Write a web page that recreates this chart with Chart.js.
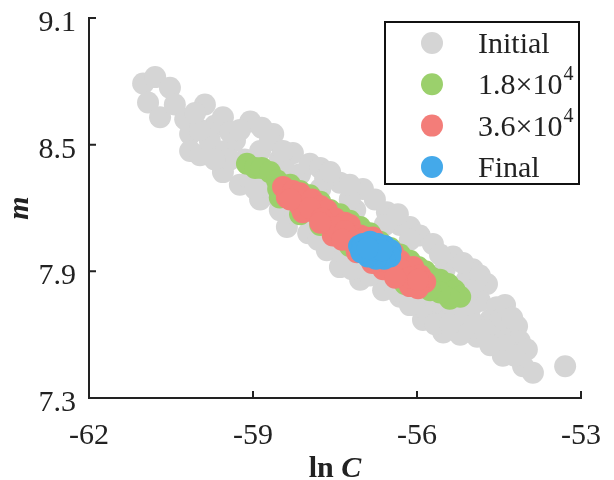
<!DOCTYPE html>
<html>
<head>
<meta charset="utf-8">
<script src="https://cdn.jsdelivr.net/npm/chart.js@4"></script>
<style>
  html, body { margin: 0; padding: 0; background: #fff; }
  canvas { display: block; }
</style>
</head>
<body>
<canvas id="c" width="614" height="480"></canvas>
<script>
// axis ticks
const xTicks = [-62, -59, -56, -53];
const yTicks = [7.3, 7.9, 8.5, 9.1];

// legend text (base + superscript)
const legendBase = ['Initial', '1.8\u00d710', '3.6\u00d710', 'Final'];
const legendSup = ['', '4', '4', ''];
const colors = ['#d5d5d5', '#9bd06c', '#f37d79', '#44a9ea'];

// samples
const initialX = [-61.01, -60.79, -60.52, -60.92, -60.70, -60.43, -60.24, -60.15, -60.15, -59.97,
  -59.88, -59.70, -59.55, -59.79, -59.51, -59.55, -59.33, -59.05, -59.15, -59.24,
  -58.87, -58.63, -58.78, -58.87, -58.51, -58.27, -58.41, -58.38, -58.14, -57.96,
  -58.05, -57.99, -57.77, -57.77, -57.87, -57.65, -57.41, -57.41, -57.41, -56.99,
  -57.13, -57.04, -56.77, -56.55, -56.62, -56.31, -56.13, -56.31, -55.95, -55.89,
  -55.71, -55.89, -55.52, -55.34, -55.49, -55.58, -55.21, -54.98, -55.09, -54.90,
  -54.72, -54.85, -54.66, -54.54, -54.43, -54.30, -54.17, -54.12, -54.06, -53.88,
  -53.29, -57.23, -56.86, -56.49, -56.13, -55.76, -55.21, -58.14, -58.51, -58.69,
  -59.05, -59.42, -54.48, -59.97, -58.96, -58.60, -58.23, -58.41, -57.68, -57.23,
  -57.32, -56.86, -56.59, -56.13, -56.04, -55.58, -55.49, -55.12, -55.03, -54.94,
  -55.21, -54.48, -54.57, -54.39, -53.99, -54.21, -55.30, -55.85, -56.40, -60.06,
  -59.42, -59.70, -59.24, -58.84, -57.59, -57.23, -56.35, -55.16, -54.85, -54.39,
  -54.26, -57.81, -57.19, -56.13, -55.67, -55.40, -54.76, -54.66, -55.03, -55.67,
  -58.69, -58.45];
const initialY = [8.79, 8.82, 8.77, 8.70, 8.63, 8.69, 8.62, 8.55, 8.47, 8.45,
  8.69, 8.59, 8.63, 8.52, 8.47, 8.37, 8.52, 8.61, 8.43, 8.31,
  8.47, 8.55, 8.36, 8.24, 8.43, 8.46, 8.29, 8.11, 8.36, 8.41,
  8.21, 8.08, 8.39, 8.29, 8.17, 8.00, 8.32, 8.10, 7.92, 8.29,
  8.19, 7.86, 8.24, 8.18, 7.81, 8.12, 8.11, 7.78, 8.07, 7.76,
  8.03, 7.67, 7.61, 7.97, 7.91, 7.72, 7.67, 7.91, 7.86, 7.59,
  7.84, 7.76, 7.67, 7.73, 7.50, 7.60, 7.64, 7.57, 7.45, 7.42,
  7.45, 8.00, 7.95, 7.91, 7.86, 7.81, 7.76, 8.24, 8.19, 8.29,
  8.33, 8.43, 7.62, 8.57, 8.29, 8.26, 8.17, 8.38, 8.34, 8.24,
  7.98, 7.88, 8.12, 8.05, 7.76, 7.98, 7.76, 7.79, 7.72, 7.65,
  7.60, 7.67, 7.57, 7.55, 7.53, 7.50, 7.69, 7.72, 7.81, 8.65,
  8.56, 8.43, 8.57, 8.58, 8.37, 8.31, 8.17, 7.94, 7.88, 7.74,
  7.68, 8.05, 7.91, 7.74, 7.65, 7.65, 7.62, 7.55, 7.81, 7.76,
  8.52, 8.47];

const midX = [-59.11, -58.96, -58.84, -58.69, -58.56, -58.54, -58.51, -58.32, -58.14, -57.96,
  -57.77, -57.59, -57.41, -57.23, -57.04, -56.86, -56.68, -56.49, -56.31, -56.13,
  -55.98, -55.85, -55.73, -55.58, -55.43, -55.31, -55.21, -55.40, -55.58, -55.76,
  -58.14, -57.77, -57.23, -56.68, -56.22];
const midY = [8.41, 8.39, 8.39, 8.37, 8.33, 8.29, 8.25, 8.31, 8.28, 8.26,
  8.23, 8.19, 8.17, 8.14, 8.11, 8.08, 8.04, 8.01, 7.98, 7.95,
  7.92, 7.90, 7.87, 7.86, 7.84, 7.81, 7.78, 7.77, 7.80, 7.81,
  8.17, 8.12, 8.02, 7.93, 7.84];

const lateX = [-58.45, -58.38, -58.27, -58.14, -58.14, -58.09, -57.92, -57.87, -57.77, -57.65,
  -57.65, -57.54, -57.50, -57.41, -57.32, -57.23, -57.23, -57.10, -57.04, -56.95,
  -56.81, -56.77, -56.62, -56.59, -56.44, -56.40, -56.31, -56.22, -56.13, -56.07,
  -55.94, -55.85, -55.98, -57.96, -57.74, -57.50, -57.32, -57.13, -56.95, -56.68,
  -56.49, -56.31, -56.13, -55.98, -56.95, -58.32, -57.77, -57.37, -56.82, -56.40];
const lateY = [8.30, 8.25, 8.28, 8.27, 8.21, 8.18, 8.24, 8.18, 8.21, 8.19,
  8.13, 8.07, 8.15, 8.11, 8.13, 8.12, 8.06, 7.99, 8.07, 8.02,
  8.06, 7.98, 7.91, 8.00, 7.99, 7.93, 7.95, 7.88, 7.83, 7.92,
  7.88, 7.85, 7.82, 8.20, 8.15, 8.11, 8.09, 8.02, 7.99, 7.95,
  7.94, 7.91, 7.87, 7.86, 8.06, 8.24, 8.13, 8.05, 7.94, 7.87];

const finalX = [-57.06, -56.99, -56.86, -56.71, -56.59, -56.48, -56.49, -56.60, -56.75, -56.90,
  -57.02, -56.77, -56.64, -56.90];
const finalY = [8.02, 8.03, 8.04, 8.03, 8.02, 8.00, 7.97, 7.96, 7.96, 7.97,
  7.99, 8.00, 8.00, 8.01];

const serif = '"Liberation Serif", "Times New Roman", serif';
const ink = '#222';

function pts(xs, ys) { return xs.map((v, i) => ({ x: v, y: ys[i] })); }

const seriesData = [pts(initialX, initialY), pts(midX, midY), pts(lateX, lateY), pts(finalX, finalY)];

const datasets = seriesData.map((d, i) => ({
  label: legendBase[i] + legendSup[i],
  data: d,
  backgroundColor: colors[i],
  pointBackgroundColor: colors[i],
  borderWidth: 0,
  pointBorderWidth: 0,
  pointRadius: 11,
  pointHoverRadius: 11,
  order: 4 - i   // gray at the bottom, blue on top
}));

// inward ticks, axis titles and boxed legend
const decor = {
  id: 'decor',
  afterDraw(chart) {
    const ctx = chart.ctx;
    const a = chart.chartArea;
    const xs = chart.scales.x, ys = chart.scales.y;
    ctx.save();
    ctx.strokeStyle = ink;
    ctx.lineWidth = 2;
    ctx.beginPath();
    xTicks.forEach(v => {
      const px = xs.getPixelForValue(v);
      ctx.moveTo(px, a.bottom); ctx.lineTo(px, a.bottom - 7);
    });
    yTicks.forEach(v => {
      const py = ys.getPixelForValue(v);
      ctx.moveTo(a.left, py); ctx.lineTo(a.left + 7, py);
    });
    ctx.stroke();

    // x title: "ln C"
    ctx.fillStyle = ink;
    ctx.textBaseline = 'alphabetic';
    const f1 = 'bold 30px ' + serif, f2 = 'italic bold 30px ' + serif;
    ctx.font = f1; const w1 = ctx.measureText('ln ').width;
    ctx.font = f2; const w2 = ctx.measureText('C').width;
    const cx = (a.left + a.right) / 2;
    let sx = cx - (w1 + w2) / 2;
    ctx.font = f1; ctx.textAlign = 'left'; ctx.fillText('ln ', sx, 477);
    ctx.font = f2; ctx.fillText('C', sx + w1, 477);

    // y title: "m"
    ctx.save();
    ctx.translate(28, (a.top + a.bottom) / 2);
    ctx.rotate(-Math.PI / 2);
    ctx.font = f2; ctx.textAlign = 'center';
    ctx.fillText('m', 0, 0);
    ctx.restore();

    // legend
    const L = 385, T = 22, R = 579, B = 184;
    ctx.fillStyle = '#fff';
    ctx.fillRect(L, T, R - L, B - T);
    ctx.strokeStyle = '#111';
    ctx.lineWidth = 2;
    ctx.strokeRect(L, T, R - L, B - T);
    legendBase.forEach((t, i) => {
      const yy = 43 + i * 41.3;
      ctx.beginPath();
      ctx.fillStyle = colors[i];
      ctx.arc(432, yy, 11, 0, Math.PI * 2);
      ctx.fill();
      ctx.fillStyle = ink;
      ctx.font = '30px ' + serif;
      ctx.textAlign = 'left';
      ctx.textBaseline = 'alphabetic';
      ctx.fillText(t, 478, yy + 10);
      if (legendSup[i]) {
        const tw = ctx.measureText(t).width;
        ctx.font = '20px ' + serif;
        ctx.fillText(legendSup[i], 478 + tw + 1, yy - 4);
      }
    });
    ctx.restore();
  }
};

new Chart(document.getElementById('c'), {
  type: 'scatter',
  data: { datasets: datasets },
  options: {
    responsive: false,
    animation: false,
    devicePixelRatio: 1,
    layout: { padding: { top: 18, right: 33, left: 0, bottom: 0 } },
    plugins: {
      legend: { display: false },
      tooltip: { enabled: false }
    },
    scales: {
      x: {
        type: 'linear',
        min: -62, max: -53,
        afterFit: s => { s.height = 82; s.paddingLeft = 0; s.paddingRight = 0; },
        afterBuildTicks: s => { s.ticks = xTicks.map(v => ({ value: v })); },
        grid: { display: false, drawTicks: false },
        border: { display: true, color: ink, width: 2 },
        ticks: {
          autoSkip: false, maxRotation: 0, padding: 20, color: ink,
          font: { family: serif, size: 30 },
          callback: v => String(v)
        }
      },
      y: {
        type: 'linear',
        min: 7.3, max: 9.1,
        afterFit: s => { s.width = 89; s.paddingTop = 0; s.paddingBottom = 0; },
        afterBuildTicks: s => { s.ticks = yTicks.map(v => ({ value: v })); },
        grid: { display: false, drawTicks: false },
        border: { display: true, color: ink, width: 2 },
        ticks: {
          autoSkip: false, padding: 13, labelOffset: 5, color: ink,
          font: { family: serif, size: 30 },
          callback: v => v.toFixed(1)
        }
      }
    }
  },
  plugins: [decor]
});
</script>
</body>
</html>
